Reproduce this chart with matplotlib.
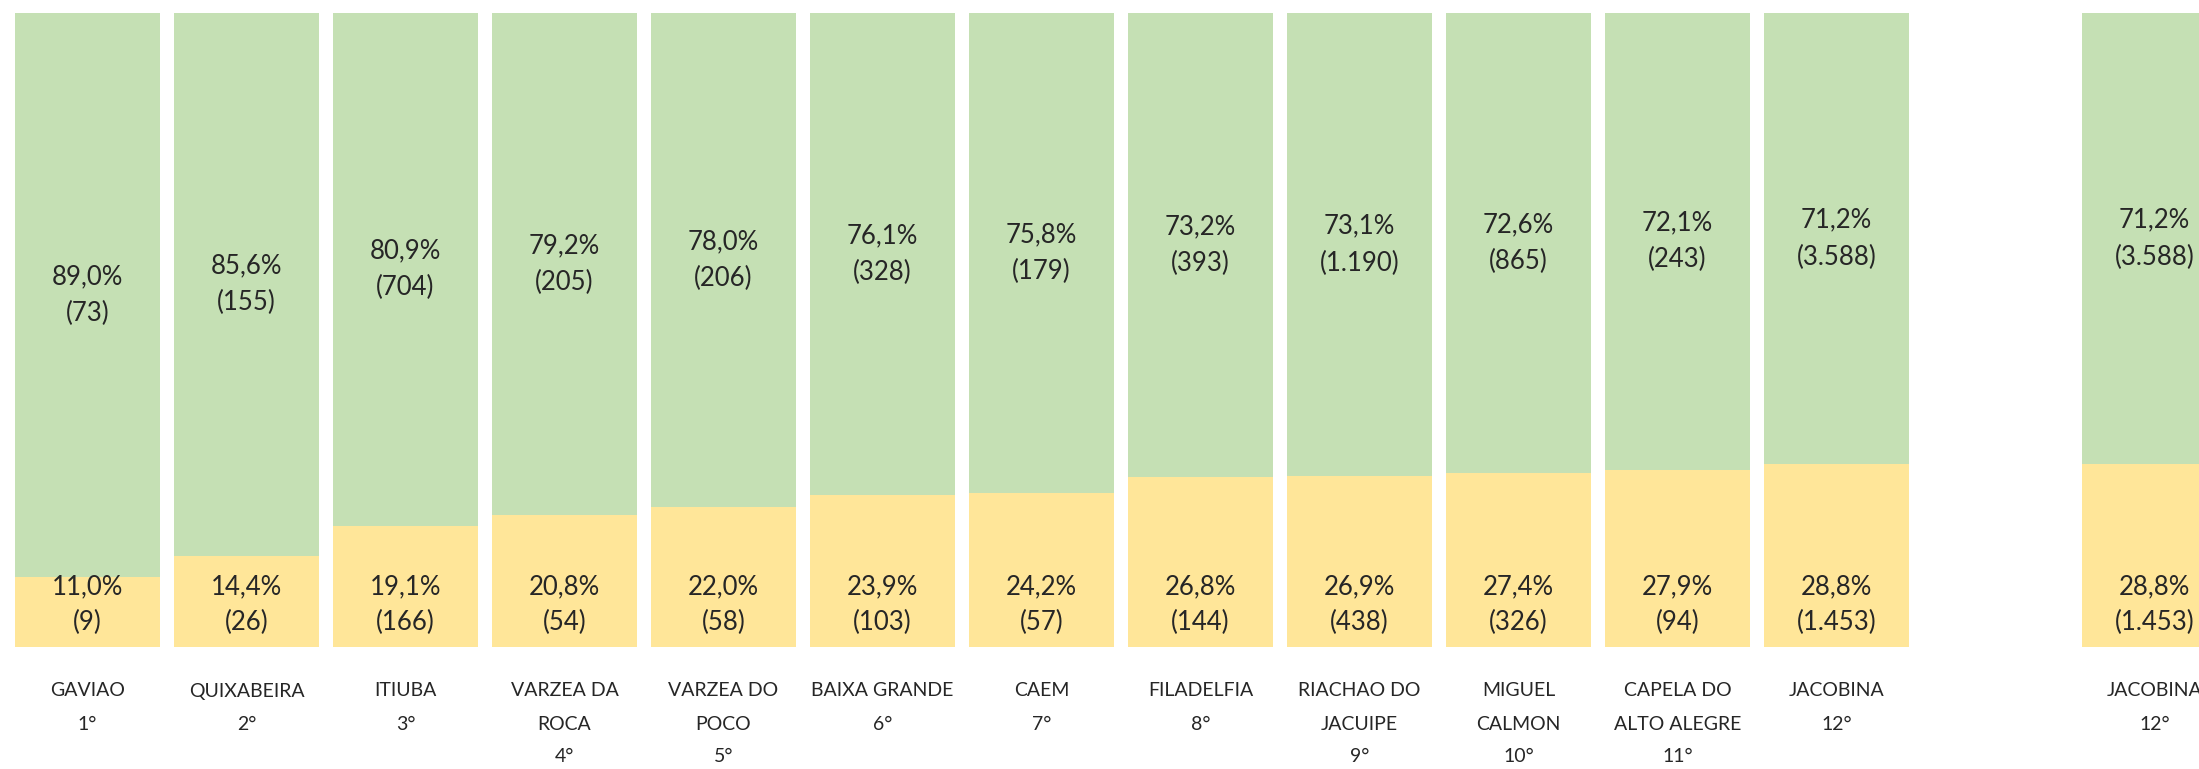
import matplotlib.pyplot as plt

# municipalities ranked by share of the first group
names = ["GAVIAO", "QUIXABEIRA", "ITIUBA", "VARZEA DA\nROCA", "VARZEA DO\nPOCO",
         "BAIXA GRANDE", "CAEM", "FILADELFIA", "RIACHAO DO\nJACUIPE", "MIGUEL\nCALMON",
         "CAPELA DO\nALTO ALEGRE", "JACOBINA", "JACOBINA"]
ranks = [1, 2, 3, 4, 5, 6, 7, 8, 9, 10, 11, 12, 12]
green_pct = [89.0, 85.6, 80.9, 79.2, 78.0, 76.1, 75.8, 73.2, 73.1, 72.6, 72.1, 71.2, 71.2]
green_n = [73, 155, 704, 205, 206, 328, 179, 393, 1190, 865, 243, 3588, 3588]
yellow_pct = [11.0, 14.4, 19.1, 20.8, 22.0, 23.9, 24.2, 26.8, 26.9, 27.4, 27.9, 28.8, 28.8]
yellow_n = [9, 26, 166, 54, 58, 103, 57, 144, 438, 326, 94, 1453, 1453]

# slot of each bar (last one stands apart)
xpos = list(range(12)) + [13]

GREEN = "#C5E0B4"
YELLOW = "#FFE699"
TEXT = "#262626"


def fmt_pct(v):
    return f"{v:.1f}".replace(".", ",") + "%"


def fmt_n(v):
    return "(" + f"{v:,}".replace(",", ".") + ")"


plt.rcParams["font.family"] = ["Lato", "DejaVu Sans"]

fig = plt.figure(figsize=(21.99, 7.69), dpi=100)
ax = fig.add_axes([0, 0, 1, 1])

ax.bar(xpos, yellow_pct, width=0.912, color=YELLOW)
ax.bar(xpos, green_pct, width=0.912, bottom=yellow_pct, color=GREEN)

px = 100 / 634.3  # data units per pixel vertically
for x, gp, gn, yp, yn, name, r in zip(xpos, green_pct, green_n, yellow_pct, yellow_n,
                                      names, ranks):
    mid = yp + gp / 2
    ax.text(x, mid + 18.5 * px, fmt_pct(gp), ha="center", va="center",
            fontsize=18.5, color=TEXT)
    ax.text(x, mid - 18.5 * px, fmt_n(gn), ha="center", va="center",
            fontsize=18.5, color=TEXT)
    ax.text(x, 60 * px, fmt_pct(yp), ha="center", va="center", fontsize=18.5, color=TEXT)
    ax.text(x, 25 * px, fmt_n(yn), ha="center", va="center", fontsize=18.5, color=TEXT)

    lines = name.split("\n") + [f"{r}°"]
    for i, line in enumerate(lines):
        ax.text(x, -(44 + 33 * i) * px, line, ha="center", va="center",
                fontsize=14, color=TEXT)

ax.set_xlim(-0.550, 13.28)
ax.set_ylim(-122 * px, 100 + 12.7 * px)
ax.axis("off")

fig.savefig("out.png", dpi=100)
